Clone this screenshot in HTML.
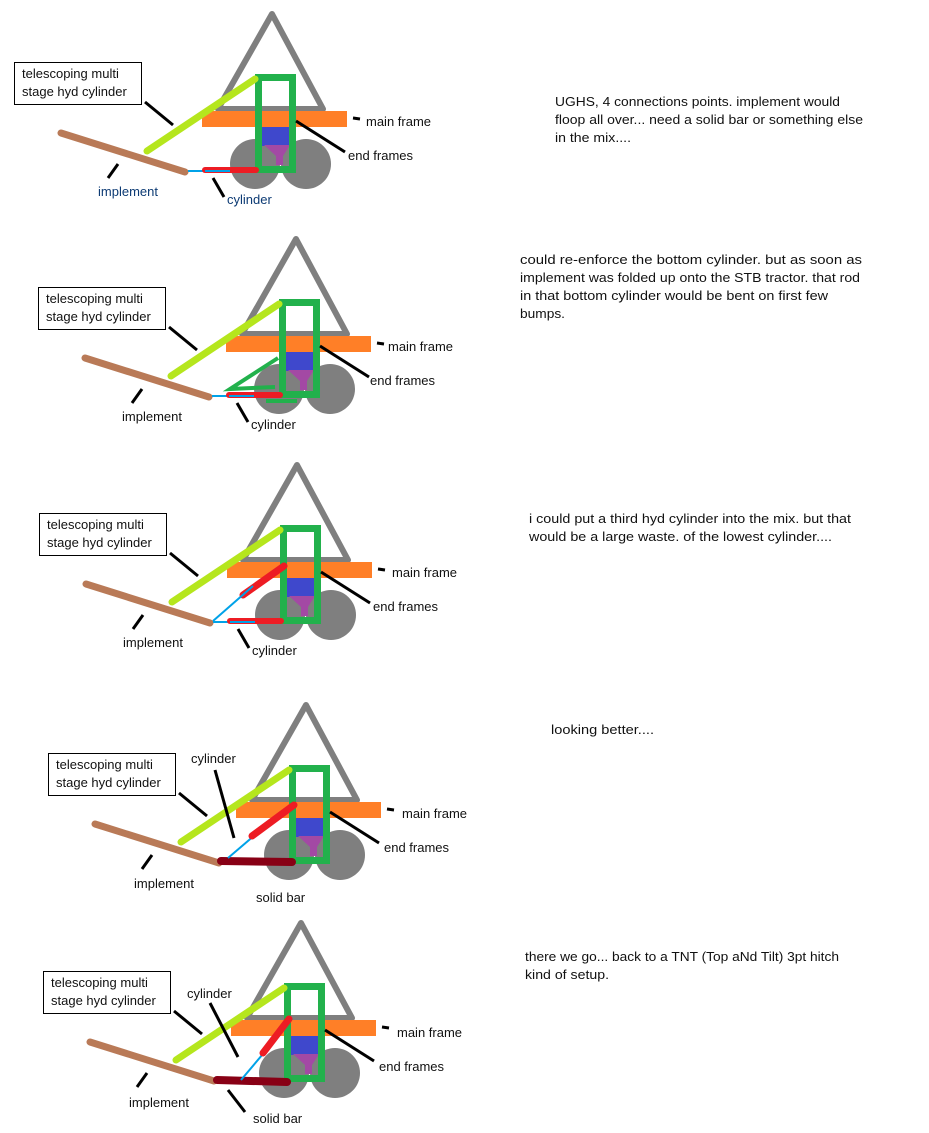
<!DOCTYPE html>
<html><head><meta charset="utf-8"><style>
html,body{margin:0;padding:0;background:#fff;}
svg{display:block;}
text{font-family:"Liberation Sans",sans-serif;font-size:13px;fill:#111;}
.b{fill:#0d3b74;}
</style></head><body>
<svg width="929" height="1133" viewBox="0 0 929 1133" xmlns="http://www.w3.org/2000/svg">
<defs>
<g id="rig">
  <circle cx="255" cy="164" r="25" fill="#7f7f7f"/>
  <circle cx="306" cy="164" r="25" fill="#7f7f7f"/>
  <polygon points="218,109 272,14 323,109" fill="none" stroke="#7f7f7f" stroke-width="6" stroke-linejoin="round"/>
  <rect x="202" y="111" width="145" height="16" fill="#ff7f27"/>
  <rect x="262" y="127" width="28" height="19" fill="#3f48cc"/>
  <polygon points="264,145 290,145 283,156 283,165 276,165 276,156" fill="#a349a4"/>
  <rect x="258.5" y="77.5" width="34" height="92" fill="none" stroke="#22b14c" stroke-width="7"/>
  <line x1="147" y1="151" x2="255" y2="79" stroke="#b5e61d" stroke-width="7" stroke-linecap="round"/>
  <line x1="61" y1="133" x2="185" y2="172" stroke="#b97a57" stroke-width="7" stroke-linecap="round"/>
  <line x1="145" y1="102" x2="173" y2="125" stroke="#000" stroke-width="3"/>
  <line x1="108" y1="178" x2="118" y2="164" stroke="#000" stroke-width="3"/>
  <line x1="353" y1="118" x2="360" y2="119" stroke="#000" stroke-width="3"/>
  <line x1="296" y1="121" x2="345" y2="152" stroke="#000" stroke-width="3"/>
  <rect x="14.5" y="62.5" width="127" height="42" fill="#fff" stroke="#000" stroke-width="1"/>
</g>
<g id="cylH">
  <line x1="188" y1="171" x2="230" y2="171" stroke="#00a2e8" stroke-width="2"/>
  <line x1="205" y1="170" x2="256" y2="170" stroke="#ed1c24" stroke-width="6" stroke-linecap="round"/>
  <line x1="205" y1="171" x2="230" y2="171" stroke="#00a2e8" stroke-width="2"/>
</g>
</defs>

<!-- Panel 1 -->
<use href="#rig"/>
<use href="#cylH"/>
<line x1="213" y1="178" x2="224" y2="197" stroke="#000" stroke-width="3"/>
<text x="22" y="78">telescoping multi</text><text x="22" y="96">stage hyd cylinder</text>
<text x="98" y="196" class="b">implement</text>
<text x="227" y="204" class="b">cylinder</text>
<text x="366" y="126">main frame</text>
<text x="348" y="160">end frames</text>
<text x="555" y="106" textLength="285" lengthAdjust="spacingAndGlyphs">UGHS, 4 connections points. implement would</text>
<text x="555" y="124" textLength="308" lengthAdjust="spacingAndGlyphs">floop all over... need a solid bar or something else</text>
<text x="555" y="142" textLength="76" lengthAdjust="spacingAndGlyphs">in the mix....</text>

<!-- Panel 2 -->
<g transform="translate(24,225)"><use href="#rig"/><use href="#cylH"/>
<line x1="213" y1="178" x2="224" y2="197" stroke="#000" stroke-width="3"/>
<text x="22" y="78">telescoping multi</text><text x="22" y="96">stage hyd cylinder</text>
<text x="98" y="196">implement</text>
<text x="227" y="204">cylinder</text>
<text x="364" y="126">main frame</text>
<text x="346" y="160">end frames</text>
</g>
<polyline points="278,358 230,389 275,387" fill="none" stroke="#22b14c" stroke-width="4"/>
<line x1="266" y1="401" x2="297" y2="401" stroke="#22b14c" stroke-width="4"/>
<text x="520" y="264" textLength="342" lengthAdjust="spacingAndGlyphs">could re-enforce the bottom cylinder. but as soon as</text>
<text x="520" y="282" textLength="340" lengthAdjust="spacingAndGlyphs">implement was folded up onto the STB tractor. that rod</text>
<text x="520" y="300" textLength="308" lengthAdjust="spacingAndGlyphs">in that bottom cylinder would be bent on first few</text>
<text x="520" y="318" textLength="45" lengthAdjust="spacingAndGlyphs">bumps.</text>

<!-- Panel 3 -->
<g transform="translate(25,451)"><use href="#rig"/><use href="#cylH"/>
<line x1="213" y1="178" x2="224" y2="197" stroke="#000" stroke-width="3"/>
<text x="22" y="78">telescoping multi</text><text x="22" y="96">stage hyd cylinder</text>
<text x="98" y="196">implement</text>
<text x="227" y="204">cylinder</text>
<text x="367" y="126">main frame</text>
<text x="348" y="160">end frames</text>
</g>
<line x1="243" y1="595" x2="284" y2="566" stroke="#ed1c24" stroke-width="7" stroke-linecap="round"/>
<line x1="213" y1="621" x2="253" y2="586" stroke="#00a2e8" stroke-width="2"/>
<text x="529" y="523" textLength="322" lengthAdjust="spacingAndGlyphs">i could put a third hyd cylinder into the mix. but that</text>
<text x="529" y="541" textLength="303" lengthAdjust="spacingAndGlyphs">would be a large waste.  of the lowest cylinder....</text>

<!-- Panel 4 -->
<g transform="translate(34,691)"><use href="#rig"/>
<text x="22" y="78">telescoping multi</text><text x="22" y="96">stage hyd cylinder</text>
<text x="100" y="197">implement</text>
<text x="368" y="127">main frame</text>
<text x="350" y="161">end frames</text>
</g>
<line x1="221" y1="861" x2="292" y2="862" stroke="#880015" stroke-width="8" stroke-linecap="round"/>
<line x1="228" y1="858" x2="262" y2="829" stroke="#00a2e8" stroke-width="2"/>
<line x1="252" y1="836" x2="294" y2="805" stroke="#ed1c24" stroke-width="7" stroke-linecap="round"/>
<line x1="215" y1="770" x2="234" y2="838" stroke="#000" stroke-width="3"/>
<text x="191" y="763">cylinder</text>
<text x="256" y="902">solid bar</text>
<text x="551" y="734" textLength="103" lengthAdjust="spacingAndGlyphs">looking better....</text>

<!-- Panel 5 -->
<g transform="translate(29,909)"><use href="#rig"/>
<text x="22" y="78">telescoping multi</text><text x="22" y="96">stage hyd cylinder</text>
<text x="100" y="198">implement</text>
<text x="368" y="128">main frame</text>
<text x="350" y="162">end frames</text>
</g>
<line x1="217" y1="1080" x2="287" y2="1082" stroke="#880015" stroke-width="8" stroke-linecap="round"/>
<line x1="241" y1="1080" x2="268" y2="1048" stroke="#00a2e8" stroke-width="2"/>
<line x1="263" y1="1053" x2="289" y2="1019" stroke="#ed1c24" stroke-width="7" stroke-linecap="round"/>
<line x1="210" y1="1003" x2="238" y2="1057" stroke="#000" stroke-width="3"/>
<line x1="228" y1="1090" x2="245" y2="1112" stroke="#000" stroke-width="3"/>
<text x="187" y="998">cylinder</text>
<text x="253" y="1123">solid bar</text>
<text x="525" y="961" textLength="314" lengthAdjust="spacingAndGlyphs">there we go... back to a TNT (Top aNd Tilt) 3pt hitch</text>
<text x="525" y="979" textLength="84" lengthAdjust="spacingAndGlyphs">kind of setup.</text>
</svg>
</body></html>
